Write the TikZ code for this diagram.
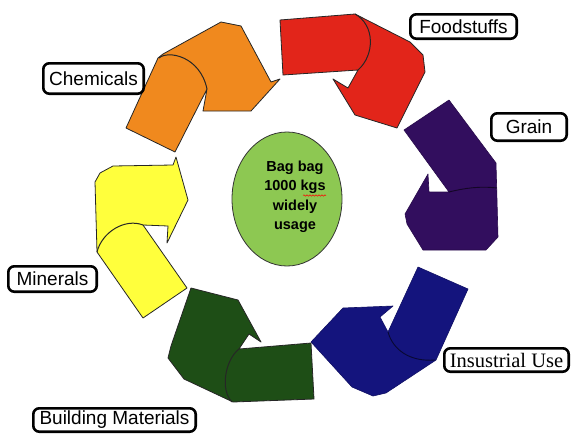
\documentclass[tikz,border=0pt]{standalone}
\usepackage{fontspec}
\setmainfont{Liberation Sans}
\newfontfamily\serifface{Liberation Serif}
\usetikzlibrary{shapes.geometric,decorations.pathmorphing}
\definecolor{corange}{RGB}{240,137,30}
\definecolor{cred}{RGB}{226,37,26}
\definecolor{cpurple}{RGB}{50,14,94}
\definecolor{cblue}{RGB}{20,20,125}
\definecolor{cgreen}{RGB}{30,78,22}
\definecolor{cyellow}{RGB}{255,255,60}
\definecolor{chub}{RGB}{141,200,82}
\begin{document}
\begin{tikzpicture}[x=1pt,y=-1pt,
  arrowshape/.style={draw=black!85, line width=0.8pt, line join=round},
  darkshape/.style={line width=0.6pt, line join=round},
  fold/.style={draw=black!85, line width=1pt},
  tag/.style={draw=black, line width=2.6pt, rounded corners=6pt, fill=white, inner sep=0pt, font=\fontsize{19}{22}\selectfont}]
\useasboundingbox (0,0) rectangle (572,439);

% orange (Chemicals)
\filldraw[arrowshape, fill=corange] (126,128) -- (175,152) -- (207,89) -- (203,111) -- (251,111) -- (280,79) -- (271,82) -- (241,26) -- (221,22) -- (163,54) -- (158,58) -- cycle;
\draw[fold] (159,58) .. controls (168,50) and (200,56) .. (207,89);

% red (Foodstuffs)
\filldraw[arrowshape, fill=cred] (280,20) -- (355,14) -- (410,42) -- (423,55) -- (425,72) -- (397,128) -- (355,115) -- (333,79) -- (348,88) -- (358,70) -- (283,75) -- cycle;
\draw[fold] (355,14) .. controls (375,25) and (375,55) .. (358,70);

% purple (Grain)
\filldraw[darkshape, fill=cpurple, draw=cpurple!80!black] (404,130) -- (449,100) -- (496,163) -- (498,237) -- (486,250) -- (423,250) -- (407,224) -- (405,214) -- (428,174) -- (429,192) -- (449,192) -- cycle;
\draw[line width=0.9pt, draw=black!60!cpurple] (449,192) .. controls (465,188) and (480,186) .. (497,188);

% blue (Industrial Use)
\filldraw[darkshape, fill=cblue, draw=cblue!80!black] (418,267) -- (468,289) -- (436,360) -- (386,393) -- (373,396) -- (352,387) -- (311,342) -- (343,308) -- (393,306) -- (380,317) -- (388,332) -- cycle;
\draw[line width=0.9pt, draw=black!60!cblue] (388,332) .. controls (393,350) and (410,362) .. (435,360);

% green (Building Materials)
\filldraw[arrowshape, fill=cgreen] (191,288) -- (238,300) -- (261,342) -- (249,334) -- (239,349) -- (311,343) -- (314,399) -- (233,402) -- (184,379) -- (168,358) -- (171,346) -- cycle;
\draw[fold] (239,349) .. controls (225,360) and (220,390) .. (232,402);

% yellow (Minerals)
\filldraw[arrowshape, fill=cyellow] (113,166) -- (173,165) -- (176,157) -- (188,200) -- (167,243) -- (168,226) -- (143,225) -- (187,288) -- (143,318) -- (97,252) -- (95,182) -- (100,173) -- cycle;
\draw[fold] (97,252) .. controls (102,232) and (125,218) .. (143,225);

% hub
\node (hub) [ellipse, draw=black!80, line width=0.8pt, fill=chub, minimum width=110pt, minimum height=134pt] at (287,199) {};
\node (hubtext) at (295,197) [align=center, font=\fontsize{14.5}{19.5}\selectfont\bfseries] {Bag bag\\1000 kgs\\widely\\usage};
\draw[red, line width=0.5pt, decorate, decoration={snake, amplitude=0.7pt, segment length=3pt}] (303,195.5) -- (326,195.5);

% labels
\node (chem) [tag, minimum width=100.4pt, minimum height=30.4pt] at (93.5,78.5) {Chemicals};
\node (food) [tag, minimum width=106.4pt, minimum height=24.4pt] at (463.5,26.5) {Foodstuffs};
\node (grain) [tag, minimum width=75.4pt, minimum height=27.4pt] at (529,127) {Grain};
\node (mine) [tag, minimum width=88.4pt, minimum height=25.4pt] at (52.5,279) {Minerals};
\node (build) [tag, minimum width=162.4pt, minimum height=23.4pt] at (114.5,420) {Building Materials};
\node (indus) [tag, minimum width=124.4pt, minimum height=23.4pt, font=\serifface\fontsize{20.5}{22}\selectfont] at (506.5,360) {Insustrial Use};
\end{tikzpicture}
\end{document}
